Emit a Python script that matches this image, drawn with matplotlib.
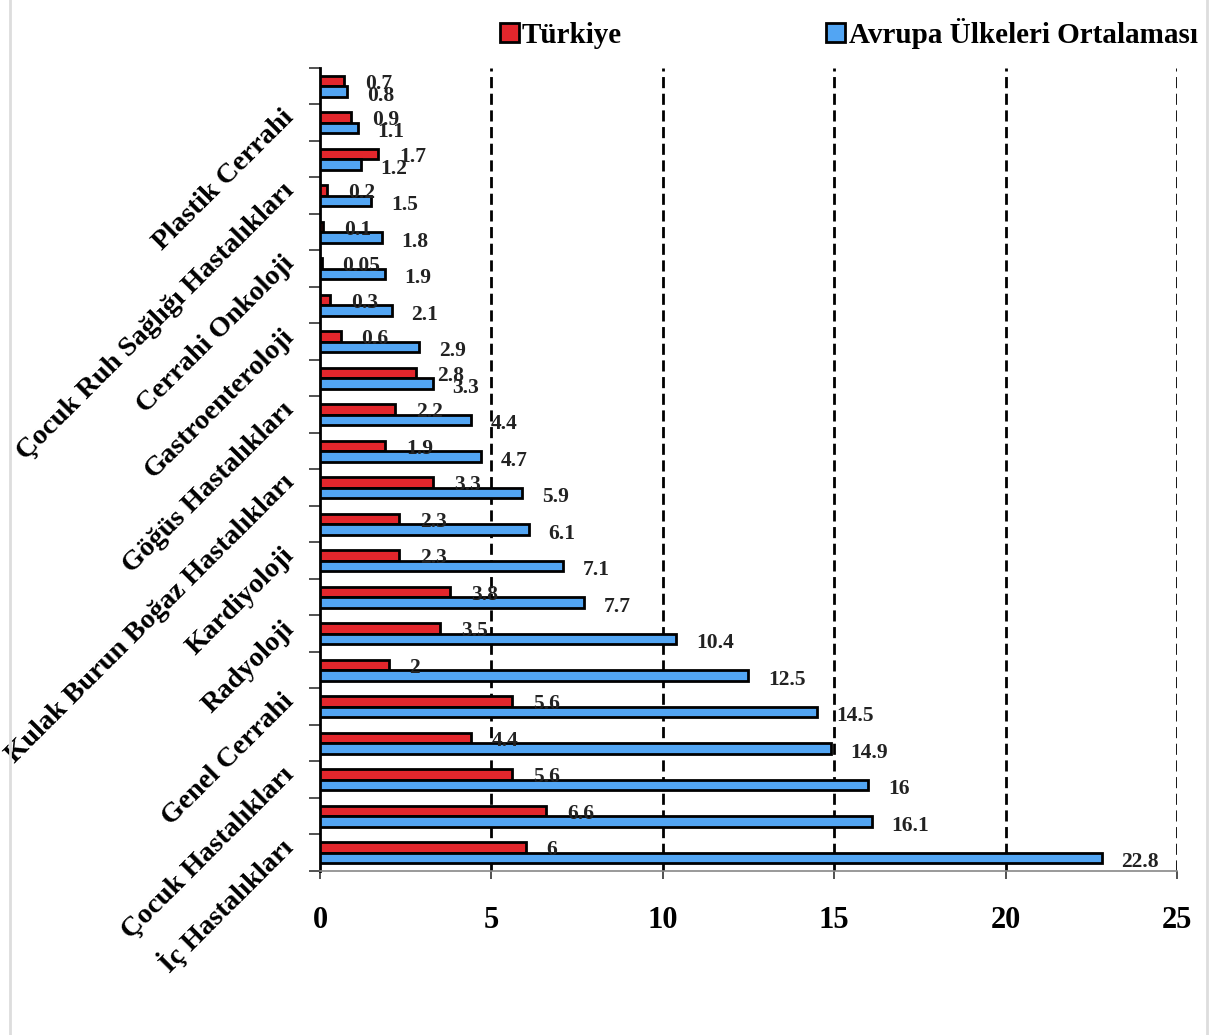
import numpy as np
import matplotlib.pyplot as plt
from matplotlib.patches import Rectangle

# categories top to bottom (only every other one carries a label)
categories = ['', 'Plastik Cerrahi', '', 'Çocuk Ruh Sağlığı Hastalıkları', '', 'Cerrahi Onkoloji',
              '', 'Gastroenteroloji', '', 'Göğüs Hastalıkları', '', 'Kulak Burun Boğaz Hastalıkları',
              '', 'Kardiyoloji', '', 'Radyoloji', '', 'Genel Cerrahi', '', 'Çocuk Hastalıkları',
              '', 'İç Hastalıkları']
turkiye = [0.7, 0.9, 1.7, 0.2, 0.1, 0.05, 0.3, 0.6, 2.8, 2.2, 1.9,
           3.3, 2.3, 2.3, 3.8, 3.5, 2, 5.6, 4.4, 5.6, 6.6, 6]
avrupa = [0.8, 1.1, 1.2, 1.5, 1.8, 1.9, 2.1, 2.9, 3.3, 4.4, 4.7,
          5.9, 6.1, 7.1, 7.7, 10.4, 12.5, 14.5, 14.9, 16, 16.1, 22.8]
turkiye_txt = ['0.7', '0.9', '1.7', '0.2', '0.1', '0.05', '0.3', '0.6', '2.8', '2.2', '1.9',
               '3.3', '2.3', '2.3', '3.8', '3.5', '2', '5.6', '4.4', '5.6', '6.6', '6']
avrupa_txt = ['0.8', '1.1', '1.2', '1.5', '1.8', '1.9', '2.1', '2.9', '3.3', '4.4', '4.7',
              '5.9', '6.1', '7.1', '7.7', '10.4', '12.5', '14.5', '14.9', '16', '16.1', '22.8']
xticks = [0, 5, 10, 15, 20, 25]

red = '#E3262C'
blue = '#52A5F3'
serif = 'Liberation Serif'

fig = plt.figure(figsize=(12.13, 10.35), dpi=100)
ax = fig.add_axes([0.2638, 0.1585, 0.7065, 0.7758])

y = np.arange(len(categories))
h = 0.29
ax.barh(y - h / 2, turkiye, height=h, color=red, edgecolor='black', linewidth=2,
        label='Türkiye', zorder=3)
ax.barh(y + h / 2, avrupa, height=h, color=blue, edgecolor='black', linewidth=2,
        label='Avrupa Ülkeleri Ortalaması', zorder=3)

for i in range(len(categories)):
    ax.annotate(turkiye_txt[i], (turkiye[i], y[i] - h / 2 + 0.08), xytext=(15, 0),
                textcoords='offset points', ha='left', va='center',
                fontsize=15.5, fontweight='bold', family=serif, color='#222222', zorder=4)
    ax.annotate(avrupa_txt[i], (avrupa[i], y[i] + h / 2 + 0.12), xytext=(14, 0),
                textcoords='offset points', ha='left', va='center',
                fontsize=15.5, fontweight='bold', family=serif, color='#222222', zorder=4)

ax.set_xlim(0, 25)
ax.set_ylim(len(categories) - 0.5, -0.5)
ax.set_xticks(xticks)
ax.set_xticklabels([str(v) for v in xticks], fontsize=22, fontweight='bold', family=serif)
ax.tick_params(axis='x', length=6, width=1.2, pad=19, color='#333333')

for v in xticks[1:]:
    ax.axvline(v, color='black', linestyle=(0, (4, 2)), linewidth=2, zorder=1)

ax.set_yticks(y)
ax.set_yticklabels(categories, rotation=45, ha='right', va='bottom', rotation_mode='anchor',
                   fontsize=20.5, fontweight='bold', family=serif)
ax.tick_params(axis='y', length=0, pad=15)
ax.set_yticks(np.arange(len(categories) + 1) - 0.5, minor=True)
ax.tick_params(axis='y', which='minor', length=8, width=1.2, color='#333333')

for s in ['top', 'right']:
    ax.spines[s].set_visible(False)
ax.spines['left'].set_linewidth(2)
ax.spines['bottom'].set_color('#888888')
ax.spines['bottom'].set_linewidth(1.2)

fig.legend(loc='upper right', bbox_to_anchor=(1.009, 1.008), ncol=2, frameon=False,
           prop={'family': serif, 'weight': 'bold', 'size': 21},
           handlelength=0.65, handleheight=0.65, handletextpad=0.12, columnspacing=7.0)

# faint frame around the picture
fig.patches.append(Rectangle((0.008, -0.01), 0.987, 1.02, transform=fig.transFigure,
                             fill=False, edgecolor='#DDDDDD', linewidth=2))

fig.savefig('out.png', dpi=100)
